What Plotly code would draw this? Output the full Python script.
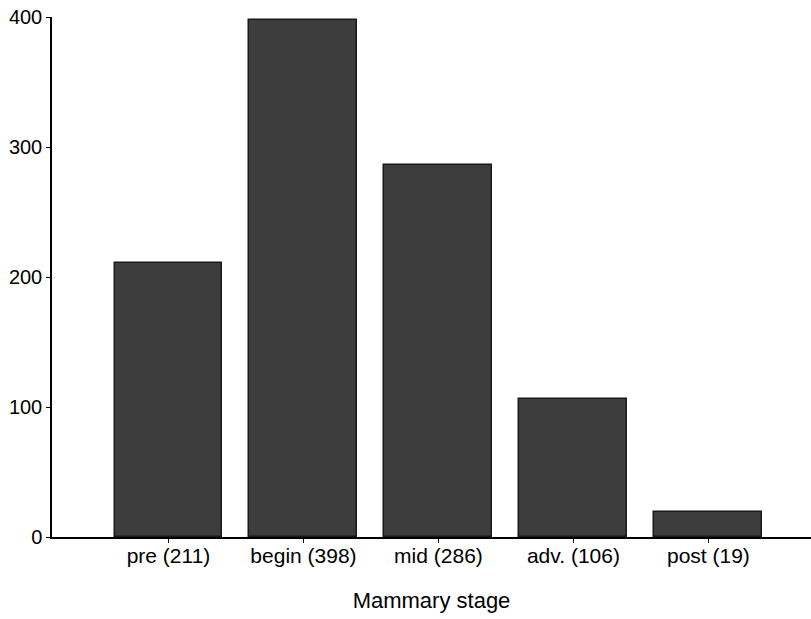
import plotly.graph_objects as go

categories = ["pre (211)", "begin (398)", "mid (286)", "adv. (106)", "post (19)"]
counts = [211, 398, 286, 106, 19]
y_ticks = [0, 100, 200, 300, 400]

fig = go.Figure()
fig.add_trace(go.Bar(
    x=list(range(len(categories))),
    y=counts,
    width=0.8,
    marker=dict(color="#3d3d3d", line=dict(color="#1a1a1a", width=1.5)),
))

font = dict(family="Arial, Liberation Sans, sans-serif", color="black")
fig.update_layout(
    width=811, height=619,
    margin=dict(l=52, r=0, t=17, b=82),
    plot_bgcolor="white", paper_bgcolor="white",
    showlegend=False,
    font=dict(size=21, **font),
    bargap=0,
)
fig.update_xaxes(
    range=[-0.863, 4.76],
    tickmode="array",
    tickvals=list(range(len(categories))),
    ticktext=categories,
    ticks="outside", ticklen=4, tickwidth=1, tickcolor="black",
    showline=True, linecolor="black", linewidth=1.5,
    showgrid=False, zeroline=False,
    automargin=False,
    ticklabelstandoff=-5,
    tickfont=dict(size=21, **font),
    title=dict(text="Mammary stage", font=dict(size=22, **font), standoff=27),
)
fig.update_yaxes(
    range=[0, 400],
    tickmode="array", tickvals=y_ticks,
    ticks="outside", ticklen=4, tickwidth=1, tickcolor="black",
    showline=True, linecolor="black", linewidth=1.5,
    showgrid=False, zeroline=False,
    automargin=False,
    tickfont=dict(size=20, **font),
)
fig.write_html(
    "out.html",
    config={"displayModeBar": False},
    post_script="document.body.style.margin='0';document.body.style.overflow='hidden';",
)
